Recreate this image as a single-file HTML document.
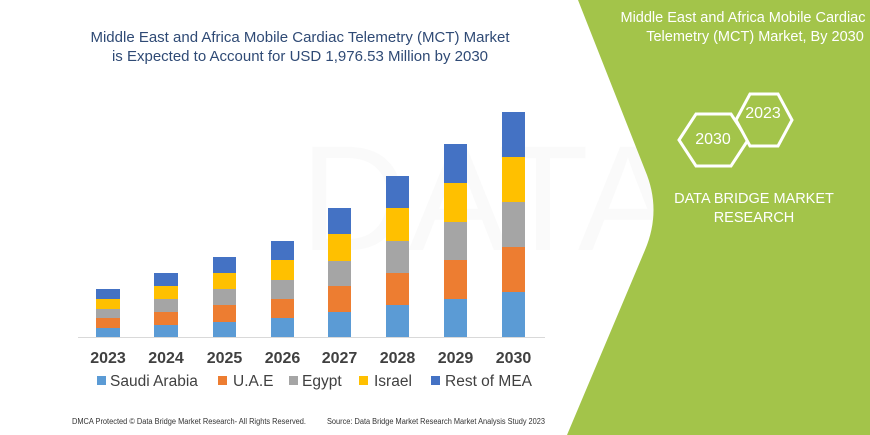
<!DOCTYPE html>
<html><head><meta charset="utf-8"><style>
html,body{margin:0;padding:0;background:#fff;}
svg{display:block;}
text{font-family:"Liberation Sans",sans-serif;}
</style></head><body>
<svg width="870" height="435" viewBox="0 0 870 435" xmlns="http://www.w3.org/2000/svg">
<rect width="870" height="435" fill="#fff"/>
<text x="300" y="250" font-size="150" fill="#000" fill-opacity="0.02" font-family="Liberation Sans">DATA BRIDGE</text>
<path d="M578,0 L870,0 L870,435 L567,435 L645,250 Q662,210 645,170 Z" fill="#a3c44a"/>
<text x="743" y="22" font-size="14.5" fill="#fff" text-anchor="middle">Middle East and Africa Mobile Cardiac</text>
<text x="755" y="41" font-size="14.5" fill="#fff" text-anchor="middle">Telemetry (MCT) Market, By 2030</text>
<polygon points="679,140 696,114 731,114 748,140 731,166 696,166" fill="none" stroke="#fff" stroke-width="3"/>
<polygon points="736,120 750,94 778,94 792,120 778,146 750,146" fill="#a3c44a" stroke="#fff" stroke-width="3"/>
<text x="763" y="118" font-size="16" fill="#fff" text-anchor="middle">2023</text>
<text x="713" y="144" font-size="16" fill="#fff" text-anchor="middle">2030</text>
<text x="754" y="203" font-size="14.5" fill="#fff" text-anchor="middle">DATA BRIDGE MARKET</text>
<text x="754" y="222" font-size="14.5" fill="#fff" text-anchor="middle">RESEARCH</text>
<text x="300" y="42" font-size="15" fill="#2f4a75" text-anchor="middle">Middle East and Africa Mobile Cardiac Telemetry (MCT) Market</text>
<text x="300" y="61" font-size="15" fill="#2f4a75" text-anchor="middle">is Expected to Account for USD 1,976.53 Million by 2030</text>
<line x1="78" y1="337.5" x2="545" y2="337.5" stroke="#d9d9d9" stroke-width="1"/>
<g>
<rect x="96" y="328" width="24" height="9" fill="#5b9bd5"/><rect x="96" y="318" width="24" height="10" fill="#ed7d31"/><rect x="96" y="309" width="24" height="9" fill="#a5a5a5"/><rect x="96" y="299" width="24" height="10" fill="#ffc000"/><rect x="96" y="289" width="24" height="10" fill="#4472c4"/>
<rect x="154" y="325" width="24" height="12" fill="#5b9bd5"/><rect x="154" y="312" width="24" height="13" fill="#ed7d31"/><rect x="154" y="299" width="24" height="13" fill="#a5a5a5"/><rect x="154" y="286" width="24" height="13" fill="#ffc000"/><rect x="154" y="273" width="24" height="13" fill="#4472c4"/>
<rect x="213" y="322" width="23" height="15" fill="#5b9bd5"/><rect x="213" y="305" width="23" height="17" fill="#ed7d31"/><rect x="213" y="289" width="23" height="16" fill="#a5a5a5"/><rect x="213" y="273" width="23" height="16" fill="#ffc000"/><rect x="213" y="257" width="23" height="16" fill="#4472c4"/>
<rect x="271" y="318" width="23" height="19" fill="#5b9bd5"/><rect x="271" y="299" width="23" height="19" fill="#ed7d31"/><rect x="271" y="280" width="23" height="19" fill="#a5a5a5"/><rect x="271" y="260" width="23" height="20" fill="#ffc000"/><rect x="271" y="241" width="23" height="19" fill="#4472c4"/>
<rect x="328" y="312" width="23" height="25" fill="#5b9bd5"/><rect x="328" y="286" width="23" height="26" fill="#ed7d31"/><rect x="328" y="261" width="23" height="25" fill="#a5a5a5"/><rect x="328" y="234" width="23" height="27" fill="#ffc000"/><rect x="328" y="208" width="23" height="26" fill="#4472c4"/>
<rect x="386" y="305" width="23" height="32" fill="#5b9bd5"/><rect x="386" y="273" width="23" height="32" fill="#ed7d31"/><rect x="386" y="241" width="23" height="32" fill="#a5a5a5"/><rect x="386" y="208" width="23" height="33" fill="#ffc000"/><rect x="386" y="176" width="23" height="32" fill="#4472c4"/>
<rect x="444" y="299" width="23" height="38" fill="#5b9bd5"/><rect x="444" y="260" width="23" height="39" fill="#ed7d31"/><rect x="444" y="222" width="23" height="38" fill="#a5a5a5"/><rect x="444" y="183" width="23" height="39" fill="#ffc000"/><rect x="444" y="144" width="23" height="39" fill="#4472c4"/>
<rect x="502" y="292" width="23" height="45" fill="#5b9bd5"/><rect x="502" y="247" width="23" height="45" fill="#ed7d31"/><rect x="502" y="202" width="23" height="45" fill="#a5a5a5"/><rect x="502" y="157" width="23" height="45" fill="#ffc000"/><rect x="502" y="112" width="23" height="45" fill="#4472c4"/>
</g>
<g font-size="16" font-weight="bold" fill="#404040" text-anchor="middle">
<text x="108" y="363">2023</text><text x="166" y="363">2024</text><text x="224.5" y="363">2025</text><text x="282.5" y="363">2026</text><text x="339.5" y="363">2027</text><text x="397.5" y="363">2028</text><text x="455.5" y="363">2029</text><text x="513.5" y="363">2030</text>
</g>
<g font-size="15.5" fill="#404040">
<rect x="97" y="376" width="9" height="9" fill="#5b9bd5"/><text x="110" y="386">Saudi Arabia</text>
<rect x="218" y="376" width="9" height="9" fill="#ed7d31"/><text x="233" y="386">U.A.E</text>
<rect x="289" y="376" width="9" height="9" fill="#a5a5a5"/><text x="302" y="386">Egypt</text>
<rect x="359" y="376" width="9" height="9" fill="#ffc000"/><text x="374" y="386">Israel</text>
<rect x="431" y="376" width="9" height="9" fill="#4472c4"/><text x="445" y="386">Rest of MEA</text>
</g>
<text x="72" y="424" font-size="8" fill="#333" font-family="Liberation Serif" textLength="234" lengthAdjust="spacingAndGlyphs">DMCA Protected © Data Bridge Market Research-  All Rights Reserved.</text>
<text x="327" y="424" font-size="8" fill="#333" font-family="Liberation Serif" textLength="218" lengthAdjust="spacingAndGlyphs">Source:  Data Bridge Market Research  Market Analysis Study 2023</text>
</svg>
</body></html>
